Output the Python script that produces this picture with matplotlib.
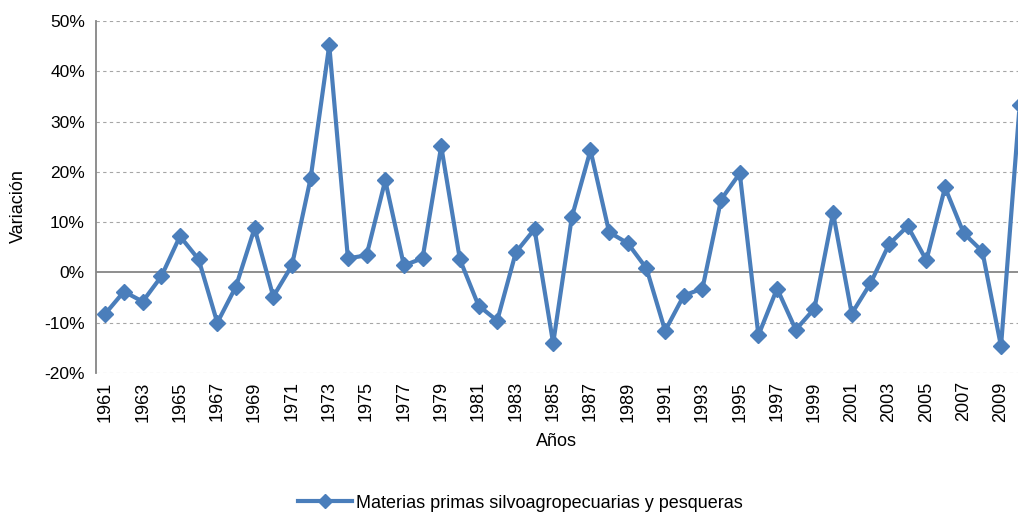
import matplotlib.pyplot as plt
from matplotlib.ticker import FuncFormatter

plt.rcParams['font.family'] = ['Liberation Sans', 'DejaVu Sans']

# ===== datos =====
anios = list(range(1961, 2011))
variacion = [-8.2, -3.8, -5.8, -0.8, 7.2, 2.6, -10.0, -2.8, 8.8, -4.8,
             1.4, 18.7, 45.2, 2.8, 3.4, 18.3, 1.4, 2.8, 25.1, 2.6,
             -6.6, -9.6, 4.0, 8.6, -14.1, 11.0, 24.3, 8.0, 5.8, 0.8,
             -11.6, -4.6, -3.2, 14.5, 19.7, -12.5, -3.2, -11.4, -7.2, 11.8,
             -8.2, -2.2, 5.6, 9.2, 2.4, 16.9, 7.8, 4.2, -14.7, 33.3]
yticks = [-20, -10, 0, 10, 20, 30, 40, 50]
xticks = list(range(1961, 2010, 2))
serie = 'Materias primas silvoagropecuarias y pesqueras'

W, H = 1018, 513
fig = plt.figure(figsize=(W / 100, H / 100), dpi=100)
# el eje sobrepasa el borde derecho, como en el original
x0, x1 = 96, 1029
ax = fig.add_axes([x0 / W, 1 - 373 / H, (x1 - x0) / W, (373 - 21) / H])

color = '#4A7EBB'
linea, = ax.plot(anios, variacion, color=color, lw=3, marker='D', ms=8.5,
                 label=serie)

ax.set_xlim(1960.5, 2010.5)
ax.set_ylim(-20, 50)
ax.set_yticks(yticks)
ax.yaxis.set_major_formatter(FuncFormatter(lambda v, p: f'{int(v)}%'))
ax.set_xticks(xticks)
ax.set_xticklabels([str(a) for a in xticks], rotation=90)

for v in yticks:
    if v == 0:
        ax.axhline(0, color='#868686', lw=1.3, zorder=1)
    else:
        ax.axhline(v, color='#A6A6A6', lw=0.8, ls=(0, (3, 3)), zorder=0)

for s in ['top', 'right', 'bottom']:
    ax.spines[s].set_visible(False)
ax.spines['left'].set_color('#868686')
ax.spines['left'].set_linewidth(1.3)
ax.tick_params(axis='y', length=0, labelsize=12.5, pad=8)
ax.tick_params(axis='x', length=0, labelsize=13, pad=6)

fig.text(18 / W, 1 - 206 / H, 'Variación', fontsize=13, rotation=90,
         ha='center', va='center')
fig.text(556 / W, 1 - 441 / H, 'Años', fontsize=13, ha='center', va='center')

fig.legend(handles=[linea], loc='center', bbox_to_anchor=(520 / W, 1 - 503 / H),
           frameon=False, fontsize=13, handlelength=3, handletextpad=0.2,
           markerscale=0.8)

fig.savefig('out.png', dpi=100)
